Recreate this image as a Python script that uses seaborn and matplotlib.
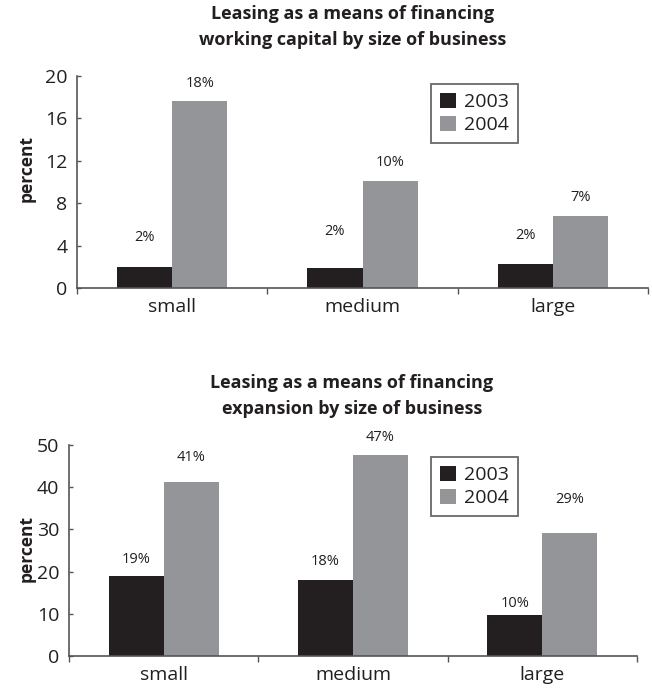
import matplotlib
matplotlib.use("Agg")
import matplotlib.pyplot as plt
import seaborn as sns
import pandas as pd
import numpy as np

sizes = ["small", "medium", "large"]
years = ["2003", "2004"]
wc_2003 = [2.0, 1.9, 2.25]
wc_2004 = [17.6, 10.1, 6.8]
wc_labels_2003 = ["2%", "2%", "2%"]
wc_labels_2004 = ["18%", "10%", "7%"]
ex_2003 = [19.0, 18.0, 9.7]
ex_2004 = [41.2, 47.6, 29.1]
ex_labels_2003 = ["19%", "18%", "10%"]
ex_labels_2004 = ["41%", "47%", "29%"]
title_top = "Leasing as a means of financing\nworking capital by size of business"
title_bottom = "Leasing as a means of financing\nexpansion by size of business"

sns.set_style("ticks")
plt.rcParams["font.family"] = ["Open Sans", "DejaVu Sans"]

palette = {"2003": "#231f20", "2004": "#939598"}
ink = "#231f20"

fig = plt.figure(figsize=(6.52, 6.90), dpi=100)
ax1 = fig.add_axes([0.1181, 0.5826, 0.8758, 0.3072])
ax2 = fig.add_axes([0.1058, 0.0493, 0.8712, 0.3058])


def draw(ax, v03, v04, l03, l04, title, title_x, ymax, yticks, off03, off04,
         leg_xy, ylab_xy):
    df = pd.DataFrame({
        "size": sizes * 2,
        "year": [years[0]] * 3 + [years[1]] * 3,
        "value": list(v03) + list(v04),
    })
    sns.barplot(data=df, x="size", y="value", hue="year", order=sizes,
                hue_order=years, palette=palette, width=0.58, saturation=1,
                edgecolor="none", linewidth=0, ax=ax, legend=True)
    for cont, labs, offs in zip(ax.containers, [l03, l04], [off03, off04]):
        for bar, lab, off in zip(cont, labs, offs):
            ax.annotate(lab, (bar.get_x() + bar.get_width() / 2, bar.get_height()),
                        xytext=(0, off), textcoords="offset pixels",
                        ha="center", va="center", fontsize=10.5, color=ink)
    ax.set_xlim(-0.5, 2.5)
    ax.set_ylim(0, ymax)
    ax.set_yticks(yticks)
    ax.set_xticks([0, 1, 2])
    ax.set_xticks([-0.5, 0.5, 1.5, 2.5], minor=True)
    ax.tick_params(axis="x", which="major", length=0, labelsize=14, pad=7, colors=ink)
    ax.tick_params(axis="x", which="minor", length=4, width=1.0, color="#555555")
    ax.tick_params(axis="y", direction="in", length=3, width=1.0, labelsize=14,
                   pad=7, colors=ink)
    ax.tick_params(axis="y", color="#555555")
    ax.set_xlabel("")
    ax.set_ylabel("percent", fontsize=12.5, fontweight="bold", color=ink)
    ax.yaxis.set_label_coords(*ylab_xy)
    ax.set_title(title, fontsize=13, fontweight="bold", color=ink, pad=22,
                 linespacing=1.6, x=title_x)
    sns.despine(ax=ax)
    for s in ["left", "bottom"]:
        ax.spines[s].set_linewidth(1.2)
        ax.spines[s].set_color("#555555")
    leg = ax.legend(loc="upper left", bbox_to_anchor=leg_xy, frameon=True,
                    fancybox=False, edgecolor="#444444", fontsize=14,
                    handlelength=0.82, handleheight=0.82, handletextpad=0.45,
                    borderpad=0.45, labelspacing=0.25, borderaxespad=0)
    leg.get_frame().set_linewidth(1.3)
    for t in leg.get_texts():
        t.set_color(ink)


draw(ax1, wc_2003, wc_2004, wc_labels_2003, wc_labels_2004, title_top, 0.482, 20,
     [0, 4, 8, 12, 16, 20], [29, 36, 29], [18, 18, 18], (0.62, 0.962),
     (-0.072, 0.564))
draw(ax2, ex_2003, ex_2004, ex_labels_2003, ex_labels_2004, title_bottom, 0.498, 50,
     [0, 10, 20, 30, 40, 50], [16, 19, 12], [25, 18, 34], (0.637, 0.943),
     (-0.058, 0.51))

fig.savefig("out.png", dpi=100)
